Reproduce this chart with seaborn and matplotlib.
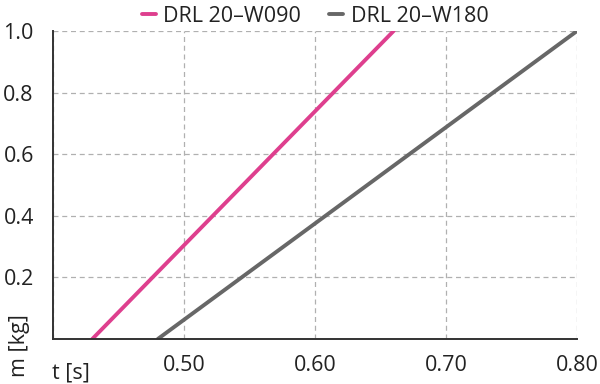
import matplotlib
matplotlib.use("Agg")
import matplotlib.pyplot as plt
import seaborn as sns
import pandas as pd

# data
mass_kg = [0.0, 0.2, 0.4, 0.6, 0.8, 1.0]
t_w090 = [0.430, 0.476, 0.522, 0.568, 0.614, 0.660]
t_w180 = [0.480, 0.544, 0.608, 0.672, 0.736, 0.800]
series_names = ["DRL 20–W090", "DRL 20–W180"]
series_colors = ["#DE3F8E", "#676767"]
x_ticks = [0.40, 0.50, 0.60, 0.70, 0.80]
x_ticklabels = ["", "0.50", "0.60", "0.70", "0.80"]
y_ticks = [0.0, 0.2, 0.4, 0.6, 0.8, 1.0]
y_ticklabels = ["", "0.2", "0.4", "0.6", "0.8", "1.0"]

df = pd.DataFrame({
    "t": t_w090 + t_w180,
    "m": mass_kg + mass_kg,
    "series": [series_names[0]] * len(mass_kg) + [series_names[1]] * len(mass_kg),
})

sns.set_theme(style="white")
plt.rcParams["font.family"] = ["Open Sans", "DejaVu Sans"]
FS = 15.5
TXT = "#222222"

fig = plt.figure(figsize=(6.0, 3.84), dpi=100)
ax = fig.add_axes([53 / 600, 1 - 339 / 384, (577 - 53) / 600, (339 - 31) / 384])

sns.lineplot(data=df, x="t", y="m", hue="series", palette=series_colors,
             linewidth=2.8, ax=ax, legend=True, sort=False)

ax.set_xlim(0.40, 0.80)
ax.set_ylim(0.0, 1.0)
ax.set_xticks(x_ticks)
ax.set_xticklabels(x_ticklabels)
ax.set_yticks(y_ticks)
ax.set_yticklabels(y_ticklabels)
ax.set_xlabel("")
ax.set_ylabel("")

for s in ["top", "right"]:
    ax.spines[s].set_visible(False)
for s in ["left", "bottom"]:
    ax.spines[s].set_color("#333333")
    ax.spines[s].set_linewidth(1.4)
    ax.spines[s].set_zorder(5)

ax.tick_params(axis="both", direction="out", length=5.8, width=1.4,
               color="#333333", labelsize=FS, labelcolor=TXT)
ax.tick_params(axis="y", pad=8)
ax.tick_params(axis="x", pad=6)
ax.grid(True, color="#b0b0b0", linestyle=(0, (4, 3)), linewidth=0.9)
ax.set_axisbelow(True)

handles, labels = ax.get_legend_handles_labels()
ax.legend_.remove()
fig.legend(handles, labels, loc="upper center", bbox_to_anchor=(315 / 600, 1.035),
           ncol=2, frameon=False, fontsize=FS, handlelength=0.65,
           handletextpad=0.35, columnspacing=1.3, labelcolor=TXT)

fig.text(52 / 600, (384 - 378) / 384, "t [s]", ha="left", va="baseline",
         fontsize=FS, color=TXT)
fig.text(20 / 600, (384 - 346) / 384, "m [kg]", ha="center", va="center",
         rotation=90, fontsize=FS, color=TXT)

fig.savefig("out.png", dpi=100)
